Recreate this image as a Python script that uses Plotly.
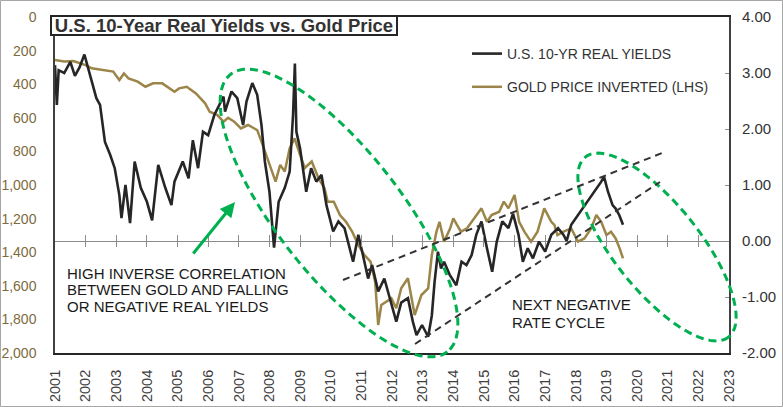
import numpy as np
import plotly.graph_objects as go

# ---------------- data ----------------
yield_x = [2001.00, 2001.06, 2001.12, 2001.30, 2001.50, 2001.65, 2001.80, 2001.96, 2002.20, 2002.35,
           2002.47, 2002.63, 2002.80, 2002.95, 2003.10, 2003.17, 2003.30, 2003.45, 2003.60, 2003.80,
           2004.00, 2004.17, 2004.37, 2004.60, 2004.80, 2004.90, 2005.17, 2005.36, 2005.50, 2005.67,
           2005.83, 2006.00, 2006.20, 2006.43, 2006.50, 2006.55, 2006.76, 2006.95, 2007.14, 2007.25,
           2007.44, 2007.60, 2007.74, 2007.85, 2008.00, 2008.15, 2008.30, 2008.50, 2008.66, 2008.77,
           2008.83, 2008.88, 2009.00, 2009.20, 2009.36, 2009.53, 2009.70, 2009.86, 2010.08, 2010.25,
           2010.45, 2010.73, 2010.90, 2011.05, 2011.22, 2011.35, 2011.55, 2011.75, 2011.98, 2012.14,
           2012.30, 2012.52, 2012.68, 2012.80, 2012.98, 2013.18, 2013.30, 2013.39, 2013.50, 2013.60,
           2013.70, 2013.88, 2014.10, 2014.27, 2014.43, 2014.60, 2014.75, 2014.92, 2015.10, 2015.27,
           2015.42, 2015.60, 2015.80, 2015.95, 2016.13, 2016.27, 2016.43, 2016.60, 2016.80, 2017.00,
           2017.20, 2017.42, 2017.60, 2017.70, 2017.85, 2018.07, 2018.23, 2018.39, 2018.61, 2018.83,
           2018.92, 2019.05, 2019.20, 2019.30, 2019.42, 2019.54]
yield_v = [3.14, 2.43, 3.05, 3.00, 3.20, 2.95, 3.10, 3.33, 2.85, 2.55,
           2.43, 1.77, 1.54, 1.30, 0.82, 0.41, 1.00, 0.32, 1.42, 0.95,
           0.70, 0.37, 1.36, 0.95, 0.64, 1.06, 1.42, 1.12, 1.80, 1.30,
           1.95, 1.89, 2.25, 2.49, 2.58, 2.31, 2.67, 2.55, 2.07, 2.49,
           2.82, 2.61, 2.07, 1.42, 0.88, -0.12, 0.70, 0.95, 1.24, 2.25,
           3.17, 1.95, 1.65, 0.88, 1.30, 1.06, 1.18, 0.64, 0.17, 0.35,
           0.23, -0.37, 0.11, -0.25, -0.67, -0.43, -0.90, -0.67, -1.14, -1.44,
           -1.10, -1.02, -1.44, -1.68, -1.50, -1.71, -1.33, -0.73, -0.19, -0.49,
           -0.37, -0.60, -0.79, -0.37, -0.43, -0.25, 0.11, 0.35, -0.13, -0.55,
           -0.01, 0.35, 0.23, 0.49, 0.11, -0.37, -0.13, -0.31, -0.01, -0.19,
           0.11, 0.23, 0.11, 0.00, 0.29, 0.46, 0.58, 0.70, 0.88, 1.06,
           1.15, 0.88, 0.64, 0.58, 0.46, 0.29]

gold_x = [2001.00, 2001.30, 2001.60, 2002.00, 2002.20, 2002.60, 2002.90, 2003.10, 2003.25, 2003.40,
          2003.70, 2003.95, 2004.20, 2004.50, 2004.90, 2005.05, 2005.30, 2005.60, 2005.90, 2006.05,
          2006.30, 2006.50, 2006.65, 2006.85, 2007.07, 2007.30, 2007.60, 2007.74, 2007.90, 2008.06,
          2008.20, 2008.35, 2008.50, 2008.66, 2008.82, 2009.00, 2009.15, 2009.38, 2009.60, 2009.80,
          2009.90, 2010.10, 2010.30, 2010.50, 2010.70, 2010.90, 2011.10, 2011.30, 2011.45, 2011.55,
          2011.65, 2011.98, 2012.14, 2012.30, 2012.52, 2012.74, 2012.96, 2013.18, 2013.30, 2013.45,
          2013.55, 2013.70, 2013.90, 2014.00, 2014.25, 2014.45, 2014.70, 2014.92, 2015.10, 2015.25,
          2015.50, 2015.65, 2015.80, 2016.00, 2016.15, 2016.32, 2016.54, 2016.75, 2016.97, 2017.20,
          2017.30, 2017.40, 2017.60, 2017.85, 2018.07, 2018.28, 2018.50, 2018.67, 2018.83, 2019.00,
          2019.15, 2019.30, 2019.43, 2019.54]
gold_v = [256, 265, 262, 286, 305, 315, 325, 375, 336, 365,
          385, 415, 395, 395, 445, 425, 415, 455, 514, 564,
          584, 623, 600, 623, 663, 643, 673, 742, 821, 899,
          980, 880, 920, 782, 722, 821, 899, 860, 960, 1020,
          1099, 1099, 1179, 1219, 1278, 1357, 1417, 1456, 1575, 1833,
          1714, 1675, 1734, 1615, 1555, 1774, 1655, 1615, 1417, 1278,
          1219, 1337, 1258, 1198, 1278, 1258, 1198, 1139, 1219, 1179,
          1159, 1099, 1139, 1060, 1219, 1278, 1337, 1278, 1139, 1219,
          1238, 1298, 1278, 1258, 1337, 1318, 1258, 1179, 1219, 1298,
          1278, 1318, 1377, 1437]

year_ticks = list(range(2001, 2024))
year_labels = [str(y) for y in year_ticks]
gold_ticks = list(range(0, 2001, 200))
gold_labels = [f"{v:,}" for v in gold_ticks]
yield_ticks = [-2, -1, 0, 1, 2, 3, 4]
yield_labels = ["-2.00", "-1.00", "0.00", "1.00", "2.00", "3.00", "4.00"]

# ---------------- geometry helpers ----------------
W, H = 783, 407
ML, MR, MT, MB = 55, 54, 17, 54
PW = W - ML - MR
PH = H - MT - MB


def px(x):
    return (x - ML) / PW


def py(y):
    return (H - MB - y) / PH


def ellipse_path(cx, cy, a, b, ang, n=160):
    t = np.linspace(0, 2 * np.pi, n)
    th = np.radians(ang)
    xs = cx + a * np.cos(t) * np.cos(th) - b * np.sin(t) * np.sin(th)
    ys = cy + a * np.cos(t) * np.sin(th) + b * np.sin(t) * np.cos(th)
    pts = [f"{px(x):.5f},{py(y):.5f}" for x, y in zip(xs, ys)]
    return "M " + " L ".join(pts) + " Z"


GREEN = "#00B050"
GOLD = "#9C8548"
GOLD_TXT = "#7D6B3D"
FONT = "Arial"

fig = go.Figure()
fig.add_trace(go.Scatter(x=yield_x, y=yield_v, yaxis="y2", mode="lines",
                         name="U.S. 10-YR REAL YIELDS", legendgroup="a",
                         line=dict(color="#262626", width=2.6)))
fig.add_trace(go.Scatter(x=gold_x, y=gold_v, yaxis="y", mode="lines",
                         name="GOLD PRICE INVERTED (LHS)", legendgroup="b",
                         line=dict(color=GOLD, width=2.5)))
fig.add_trace(go.Scatter(x=[None], y=[None], xaxis="x2", yaxis="y2",
                         showlegend=False, hoverinfo="skip"))

shapes = [
    dict(type="path", xref="paper", yref="paper", path=ellipse_path(339, 213, 176, 62, 52),
         line=dict(color=GREEN, width=3, dash="8px,5px"), layer="above"),
    dict(type="path", xref="paper", yref="paper", path=ellipse_path(657, 247, 115, 43, 51.5),
         line=dict(color=GREEN, width=3, dash="8px,5px"), layer="above"),
    dict(type="line", xref="paper", yref="paper", x0=px(343), y0=py(280), x1=px(662), y1=py(153),
         line=dict(color="#333333", width=2, dash="7px,5px"), layer="above"),
    dict(type="line", xref="paper", yref="paper", x0=px(415), y0=py(344), x1=px(660), y1=py(182),
         line=dict(color="#333333", width=2, dash="7px,5px"), layer="above"),
    dict(type="rect", xref="paper", yref="paper", x0=px(0.5), y0=py(406.5), x1=px(782.5), y1=py(0.5),
         line=dict(color="#A6A6A6", width=1), layer="above"),
]

annotations = [
    dict(xref="paper", yref="paper", x=px(50), y=py(15), xanchor="left", yanchor="top",
         text="<b>U.S. 10-Year Real Yields vs. Gold Price</b>", showarrow=False,
         font=dict(family=FONT, size=18.5, color="#333333"),
         bgcolor="white", bordercolor="#262626", borderwidth=2, borderpad=1,
         width=342, height=15, align="center"),
    dict(xref="paper", yref="paper", x=px(235), y=py(202), ax=-43, ay=53, text="",
         showarrow=True, arrowhead=2, arrowsize=1, arrowwidth=3, arrowcolor=GREEN, standoff=0),
]
for txt, yy in [("HIGH INVERSE CORRELATION", 273), ("BETWEEN GOLD AND FALLING", 289.5),
                ("OR NEGATIVE REAL YIELDS", 306)]:
    annotations.append(dict(xref="paper", yref="paper", x=px(65), y=py(yy), xanchor="left",
                            yanchor="middle", text=txt, showarrow=False,
                            font=dict(family=FONT, size=15, color="#1A1A1A")))
for txt, yy in [("NEXT NEGATIVE", 304.5), ("RATE CYCLE", 322)]:
    annotations.append(dict(xref="paper", yref="paper", x=px(510), y=py(yy), xanchor="left",
                            yanchor="middle", text=txt, showarrow=False,
                            font=dict(family=FONT, size=15, color="#1A1A1A")))

fig.update_layout(
    width=W, height=H,
    margin=dict(l=ML, r=MR, t=MT, b=MB, pad=0, autoexpand=False),
    paper_bgcolor="white", plot_bgcolor="white",
    font=dict(family=FONT, color="#333333"),
    showlegend=True,
    legend=dict(x=px(467), y=py(38), xanchor="left", yanchor="top",
                bgcolor="rgba(0,0,0,0)", font=dict(family=FONT, size=14, color="#333333"),
                tracegroupgap=12, itemwidth=30),
    xaxis=dict(range=[2001, 2023], tickvals=year_ticks, ticktext=year_labels, tickangle=-90,
               tickfont=dict(family=FONT, size=14.5, color="#404040"), showgrid=False, zeroline=False,
               showline=True, linecolor="#262626", linewidth=2, mirror=True, ticks="",
               ticklabelstandoff=9, automargin=False),
    xaxis2=dict(range=[2001, 2023], overlaying="x", anchor="free", position=py(247),
                tickvals=year_ticks, showticklabels=False, ticks="inside", ticklen=12,
                tickcolor="#8C8C8C", tickwidth=1.3, showgrid=False, zeroline=False, showline=False,
                automargin=False),
    yaxis=dict(range=[2000, 0], tickvals=gold_ticks, ticktext=gold_labels,
               tickfont=dict(family=FONT, size=14, color=GOLD_TXT), showgrid=False, zeroline=False,
               showline=True, linecolor="#404040", linewidth=1.5, mirror=True, ticks="",
               ticklabelstandoff=14, automargin=False),
    yaxis2=dict(range=[-2, 4], overlaying="y", side="right", tickvals=yield_ticks,
                ticktext=yield_labels, tickfont=dict(family=FONT, size=15, color="#333333"),
                showgrid=False, zeroline=True, zerolinecolor="#8C8C8C", zerolinewidth=1.3,
                showline=False, ticks="inside", ticklen=4, tickcolor="#8C8C8C",
                ticklabelstandoff=12, automargin=False),
    shapes=shapes,
    annotations=annotations,
)

fig.write_html("out.html", config={"displayModeBar": False},
               post_script="document.body.style.margin='0px';document.body.style.overflow='hidden';")
